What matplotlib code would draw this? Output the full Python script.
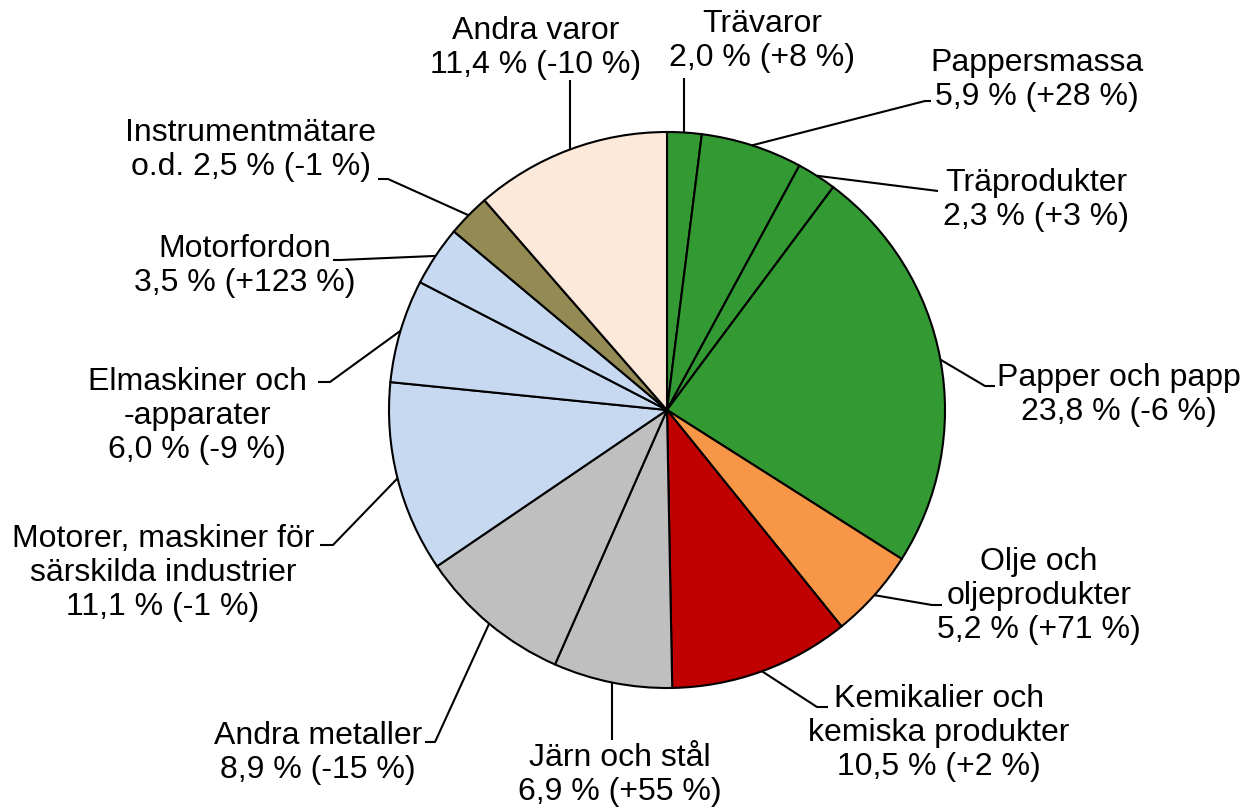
import numpy as np
import matplotlib.pyplot as plt

plt.rcParams['font.family'] = ['Liberation Sans', 'DejaVu Sans']

# Export shares by product group, clockwise from 12 o'clock
names = ['Trävaror', 'Pappersmassa', 'Träprodukter', 'Papper och papp',
         'Olje och\noljeprodukter', 'Kemikalier och\nkemiska produkter',
         'Järn och stål', 'Andra metaller',
         'Motorer, maskiner för\nsärskilda industrier',
         'Elmaskiner och\n-apparater', 'Motorfordon',
         'Instrumentmätare\no.d.', 'Andra varor']
shares = [2.0, 5.9, 2.3, 23.8, 5.2, 10.5, 6.9, 8.9, 11.1, 6.0, 3.5, 2.5, 11.4]
changes = ['+8', '+28', '+3', '-6', '+71', '+2', '+55', '-15', '-1', '-9',
           '+123', '-1', '-10']
colors = ['#339933', '#339933', '#339933', '#339933', '#F79646', '#C00000',
          '#BFBFBF', '#BFBFBF', '#C6D9F1', '#C6D9F1', '#C6D9F1', '#948A54',
          '#FDE9D9']

W, H = 1246, 811
fig = plt.figure(figsize=(W / 100, H / 100), dpi=100)
ax = fig.add_axes([0, 0, 1, 1])

cx, cy, r = 667, H - 410, 278
wedges, _ = ax.pie(shares, colors=colors, startangle=90, counterclock=False,
                   center=(cx, cy), radius=r, frame=True,
                   wedgeprops=dict(edgecolor='black', linewidth=1.5))
ax.set_xlim(0, W)
ax.set_ylim(0, H)
ax.set_aspect('equal')
ax.axis('off')

# label block centre (px from top-left) and leader path points after the rim
layout = [
    ((762, 41), [(None, 78)]),
    ((1037, 80), [(925, 101), (931, 101)]),
    ((1036, 200), [(938, 191)]),
    ((1119, 395), [(985, 386), (995, 386)]),
    ((1039, 596), [(932, 605), (942, 605)]),
    ((939, 733), [(817, 707), (828, 707)]),
    ((620, 775), [(None, 740)]),
    ((318, 753), [(435, 742), (425, 742)]),
    ((163, 573), [(333, 545), (320, 545)]),
    ((197, 416), [(330, 382), (318, 382)]),
    ((245, 266), [(340, 260), (333, 260)]),
    ((251, 150), [(388, 179), (378, 179)]),
    ((536, 48), [(None, 80)]),
]

for w, name, s, ch, (pos, path) in zip(wedges, names, shares, changes, layout):
    mid = np.deg2rad((w.theta1 + w.theta2) / 2)
    ax0 = cx + r * np.cos(mid)
    ay0 = cy + r * np.sin(mid)
    xs, ys = [ax0], [ay0]
    for px, py in path:
        xs.append(ax0 if px is None else px)
        ys.append(H - py)
    ax.plot(xs, ys, color='black', lw=1.5, solid_capstyle='butt')
    pct = f'{s:.1f}'.replace('.', ',') + f' % ({ch} %)'
    if name.endswith('o.d.'):
        txt = name + ' ' + pct
    else:
        txt = name + '\n' + pct
    ax.text(pos[0], H - pos[1], txt, ha='center', va='center',
            multialignment='center', fontsize=23, linespacing=1.17)

fig.savefig('out.png', dpi=100)
